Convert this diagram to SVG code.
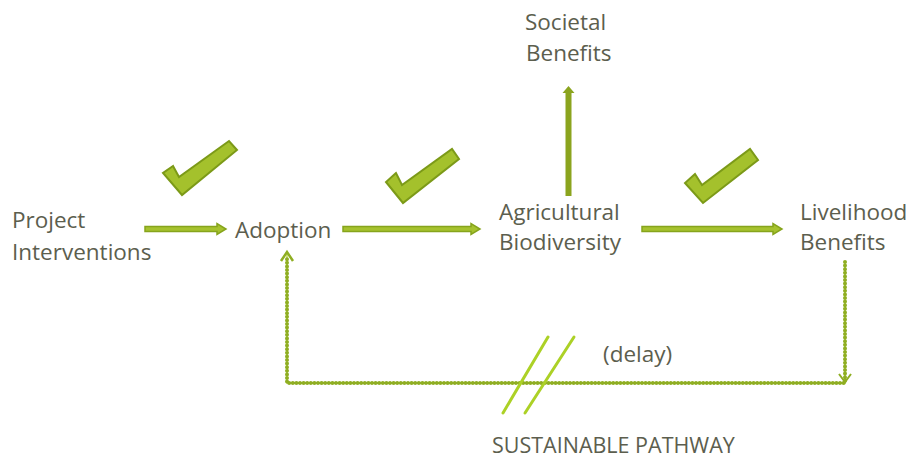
<svg xmlns="http://www.w3.org/2000/svg" width="907" height="460" viewBox="0 0 907 460">
<defs>
<style>
text{font-family:"Open Sans","Liberation Sans",sans-serif;font-size:22.5px;fill:#5c5e4e}
.chk{fill:#a4c12c;stroke:#7c9a18;stroke-width:2;stroke-linejoin:miter}
.arr{fill:#a6c22e;stroke:#86a41c;stroke-width:1.5;stroke-linejoin:miter}
.dotbase{fill:none;stroke:#c2da55;stroke-width:1.5}
.dots{fill:none;stroke:#8fae22;stroke-width:4;stroke-linecap:round;stroke-dasharray:0 3.6}
.slash{stroke:#acd126;stroke-width:3;stroke-linecap:round}
</style>
</defs>
<rect width="907" height="460" fill="#ffffff"/>
<g id="project-interventions"><text x="12" y="228">Project</text><text x="12" y="260">Interventions</text></g>
<g id="adoption"><text x="235" y="238">Adoption</text></g>
<g id="agricultural-biodiversity"><text x="499" y="220">Agricultural</text><text x="499" y="250">Biodiversity</text></g>
<g id="livelihood-benefits"><text x="800" y="220">Livelihood</text><text x="800" y="250">Benefits</text></g>
<g id="societal-benefits"><text x="525" y="30">Societal</text><text x="526" y="61">Benefits</text></g>
<g id="delay-label"><text x="603" y="362">(delay)</text></g>
<g id="sustainable-pathway"><text x="492" y="453" style="font-size:21.5px">SUSTAINABLE PATHWAY</text></g>
<g id="checks">
<polygon class="chk" points="173,166 163,173 182,195 237,150 229,141 179,177"/>
<polygon class="chk" points="396,173 386,182 403,203 459,159 452,149 402,185"/>
<polygon class="chk" points="695,174 685,183 703,203 758,160 750,149 702,185"/>
</g>
<g id="connectors">
<polygon class="arr" points="145,226.5 217,226.5 217,223.5 226,229 217,234.5 217,231.5 145,231.5"/>
<polygon class="arr" points="343,226.5 471,226.5 471,223.5 480,229 471,234.5 471,231.5 343,231.5"/>
<polygon class="arr" points="642,226.5 773,226.5 773,223.5 782,229 773,234.5 773,231.5 642,231.5"/>
<polygon points="565.5,196 565.5,93 562.5,93 568.5,86 574.5,93 571.5,93 571.5,196" fill="#8ba41e"/>
<path class="dotbase" d="M845,262 V383 H287 V254"/>
<path class="dots" d="M845,262 V383 H287 V256"/>
<path d="M281,261 L287,252 L293,261" fill="none" stroke="#8fae22" stroke-width="2.5"/>
<path d="M839,374 L845,382 L851,374" fill="none" stroke="#8fae22" stroke-width="2"/>
<line class="slash" x1="548" y1="337" x2="503" y2="413"/>
<line class="slash" x1="574" y1="337" x2="525" y2="413"/>
</g>
</svg>
